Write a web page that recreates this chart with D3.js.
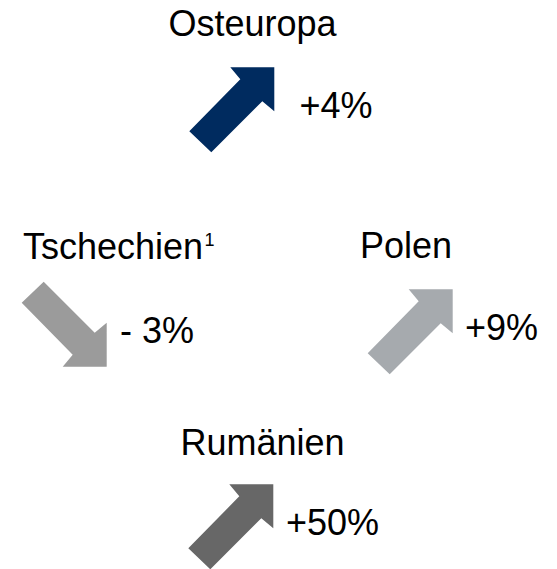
<!DOCTYPE html>
<html>
<head>
<meta charset="utf-8">
<script src="https://cdn.jsdelivr.net/npm/d3@7"></script>
<style>
  html, body { margin: 0; padding: 0; background: #ffffff; }
  svg { display: block; }
  text { font-family: "Liberation Sans", Arial, sans-serif; fill: #000000; }
</style>
</head>
<body>
<div id="chart"></div>
<script>
// ---- data ----
const regions   = ["Osteuropa", "Tschechien", "Polen", "Rumänien"];
const footnotes = ["", "1", "", ""];
const changes   = ["+4%", "- 3%", "+9%", "+50%"];
const trend     = ["up", "down", "up", "up"];
const colors    = ["#002b5f", "#9b9b9b", "#a6aaae", "#676767"];

// ---- layout (positions kept separate from data) ----
const W = 557, H = 569;
const layout = [
  { label: [252.5, 36, "middle"], tip: [274.3, 67.3], value: [299.5, 118.3] },
  { label: [23, 259.3, "start"],  tip: [106.7, 366.7], value: [120, 342.7] },
  { label: [360, 258.3, "start"], tip: [452.7, 289.3], value: [465, 340] },
  { label: [180.5, 455, "start"], tip: [273.3, 484.3], value: [286, 535] }
];

const color = d3.scaleOrdinal().domain(regions).range(colors);

const svg = d3.select("#chart").append("svg")
  .attr("width", W).attr("height", H);

// arrow outline relative to its tip, pointing up-right
const arrowPts = [[0,0],[0,44],[-12,34],[-63,85],[-85,64],[-34,12],[-44,0]];
const line = d3.line().curve(d3.curveLinearClosed);

const data = regions.map((r, i) => ({
  region: r, note: footnotes[i], change: changes[i], trend: trend[i], pos: layout[i]
}));

const g = svg.selectAll("g.item").data(data).join("g").attr("class", "item");

g.append("path")
  .attr("d", d => {
    const s = d.trend === "down" ? -1 : 1;
    return line(arrowPts.map(([x, y]) => [d.pos.tip[0] + x, d.pos.tip[1] + s * y]));
  })
  .attr("fill", d => color(d.region));

const lbl = g.append("text")
  .attr("x", d => d.pos.label[0])
  .attr("y", d => d.pos.label[1])
  .attr("text-anchor", d => d.pos.label[2])
  .attr("font-size", 36);
lbl.append("tspan").text(d => d.region);
lbl.filter(d => d.note).append("tspan")
  .attr("font-size", 18)
  .attr("dx", 1.5)
  .attr("dy", -13)
  .text(d => d.note);

g.append("text")
  .attr("x", d => d.pos.value[0])
  .attr("y", d => d.pos.value[1])
  .attr("font-size", 36)
  .text(d => d.change);
</script>
</body>
</html>
